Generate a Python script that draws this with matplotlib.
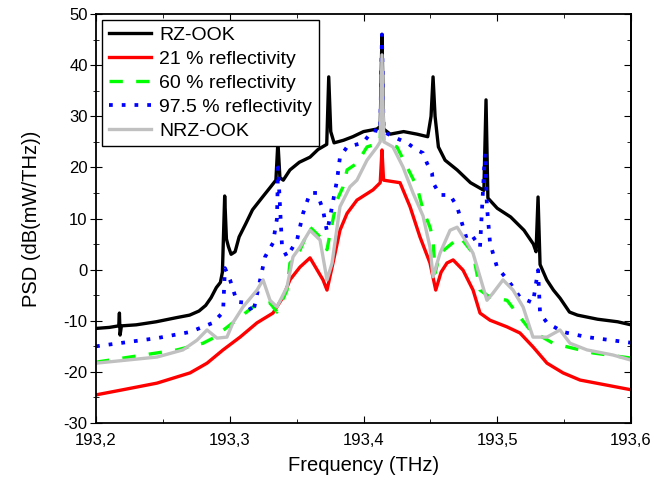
import matplotlib
matplotlib.use("Agg")
import matplotlib.pyplot as plt
from matplotlib.ticker import MultipleLocator, FuncFormatter

plt.rcParams['font.family'] = ['Liberation Sans', 'DejaVu Sans']

# values (frequency in THz, PSD in dB(mW/THz))
rz_f = [193.200, 193.210, 193.217, 193.2175, 193.218, 193.219, 193.230, 193.245, 193.260,
        193.270, 193.277, 193.282, 193.286, 193.290, 193.293, 193.2945, 193.2962, 193.2975,
        193.299, 193.301, 193.304, 193.307, 193.312, 193.317, 193.3245, 193.330, 193.3345,
        193.336, 193.3375, 193.340, 193.345, 193.352, 193.360, 193.366, 193.3725, 193.3740,
        193.3755, 193.378, 193.385, 193.392, 193.400, 193.410, 193.4125, 193.4138, 193.415,
        193.420, 193.430, 193.440, 193.448, 193.4505, 193.4520, 193.4535, 193.456, 193.461,
        193.470, 193.480, 193.490, 193.4916, 193.493, 193.500, 193.510, 193.520, 193.527,
        193.529, 193.5305, 193.532, 193.537, 193.542, 193.547, 193.554, 193.560, 193.575,
        193.590, 193.600]
rz_v = [-11.5, -11.3, -11.0, -8.5, -12.8, -11.0, -10.8, -10.2, -9.4,
        -8.9, -8.1, -7.0, -5.5, -3.5, -2.5, -0.5, 14.4, 6.0,
        4.5, 3.0, 3.5, 6.4, 9.0, 11.7, 14.2, 16.0, 17.5,
        25.0, 18.0, 17.5, 19.5, 21.0, 22.0, 23.5, 24.5, 37.7,
        27.0, 24.8, 25.3, 26.0, 27.0, 27.5, 28.0, 46.0, 27.5,
        26.5, 27.0, 26.5, 26.0, 30.0, 37.7, 30.0, 24.0, 21.4,
        19.5, 17.0, 15.5, 33.2, 14.0, 12.0, 10.3, 7.7, 5.0,
        3.5, 14.2, 1.0, -2.0, -4.0, -5.6, -8.3, -8.9, -9.7,
        -10.2, -10.8]

r21_f = [193.200, 193.220, 193.2456, 193.2703, 193.283, 193.295, 193.3077, 193.3204, 193.3323,
         193.3398, 193.345, 193.3525, 193.360, 193.3652, 193.3697, 193.3727, 193.3772, 193.3824,
         193.3877, 193.3951, 193.4071, 193.4125, 193.4138, 193.415, 193.4273, 193.4348, 193.4422,
         193.4497, 193.454, 193.4580, 193.4624, 193.467, 193.4744, 193.4819, 193.4871, 193.4946,
         193.5073, 193.517, 193.5267, 193.5372, 193.5492, 193.5619, 193.582, 193.600]
r21_v = [-24.5, -23.5, -22.2, -20.2, -18.3, -15.7, -13.2, -10.4, -8.5,
         -5.4, -2.0, 0.5, 2.3, 0.0, -2.0, -4.0, 1.3, 7.7,
         11.0, 13.6, 15.6, 17.0, 23.4, 17.5, 17.0, 12.3, 6.4,
         1.3, -4.0, -0.5, 1.3, 1.9, -0.1, -4.0, -8.5, -9.9,
         -11.2, -12.4, -15.1, -18.3, -20.2, -21.6, -22.6, -23.5]

r60_f = [193.200, 193.2606, 193.280, 193.2875, 193.3077, 193.3174, 193.3301, 193.3353, 193.3428,
         193.345, 193.3503, 193.360, 193.3675, 193.3727, 193.375, 193.3802, 193.3847, 193.3877,
         193.3951, 193.4026, 193.4123, 193.4138, 193.4153, 193.425, 193.4325, 193.440, 193.4445,
         193.4497, 193.452, 193.4535, 193.4572, 193.4721, 193.4819, 193.4871, 193.4946, 193.5073,
         193.517, 193.5245, 193.5417, 193.5522, 193.5716, 193.600]
r60_v = [-18.1, -15.7, -14.4, -13.4, -9.3, -7.3, -6.5, -8.3, -4.0,
         1.3, 2.5, 8.3, 6.4, 3.9, 7.1, 13.6, 16.2, 19.5,
         20.8, 24.0, 24.8, 32.0, 25.0, 24.0, 20.1, 16.2, 11.7,
         8.3, 5.8, -0.7, 3.2, 6.4, 3.2, -4.0, -5.4, -6.0,
         -9.3, -11.8, -14.4, -15.1, -16.3, -17.3]

r975_f = [193.200, 193.2456, 193.2703, 193.2875, 193.295, 193.2964, 193.3002, 193.3054, 193.3129,
          193.3174, 193.3264, 193.3323, 193.3353, 193.3361, 193.3391, 193.3428, 193.3503, 193.3548,
          193.360, 193.3652, 193.3697, 193.3727, 193.375, 193.3802, 193.3824, 193.3877, 193.3996,
          193.4071, 193.4125, 193.4138, 193.415, 193.422, 193.4325, 193.440, 193.4445, 193.4475,
          193.4512, 193.452, 193.4572, 193.4647, 193.470, 193.4736, 193.4774, 193.4819, 193.4871,
          193.4908, 193.4923, 193.4946, 193.4998, 193.5036, 193.5095, 193.517, 193.5222, 193.5267,
          193.5305, 193.532, 193.5372, 193.5492, 193.5671, 193.600]
r975_v = [-15.0, -13.4, -12.2, -10.4, -8.3, 0.3, -2.0, -6.3, -6.5,
          -8.5, 2.5, 5.2, 10.0, 20.0, 4.4, 2.5, 5.8, 11.0,
          15.0, 15.0, 11.7, 7.4, 10.3, 17.5, 22.0, 24.0, 24.8,
          27.3, 27.0, 46.0, 27.0, 26.0, 24.8, 23.4, 22.8, 20.8,
          18.9, 17.0, 14.6, 14.6, 12.3, 9.1, 5.8, 6.4, 4.4,
          22.8, 12.3, 5.2, 0.5, -0.7, -2.6, -5.4, -6.0, -6.5,
          -0.1, -8.5, -10.4, -12.2, -13.2, -14.3]

nrz_f = [193.200, 193.2456, 193.265, 193.2755, 193.283, 193.2905, 193.2979, 193.3024, 193.3099,
         193.3204, 193.3249, 193.3301, 193.3353, 193.3428, 193.3473, 193.3525, 193.360, 193.3675,
         193.3727, 193.3765, 193.3824, 193.3899, 193.3951, 193.4026, 193.4101, 193.4125, 193.4138,
         193.4152, 193.422, 193.4295, 193.437, 193.4445, 193.4497, 193.452, 193.4572, 193.4647,
         193.470, 193.4774, 193.4819, 193.4871, 193.4923, 193.4968, 193.5043, 193.5118, 193.5193,
         193.5267, 193.5372, 193.5469, 193.5544, 193.5671, 193.5865, 193.600]
nrz_v = [-18.3, -17.1, -15.7, -13.8, -11.8, -13.4, -13.2, -10.4, -7.3,
         -4.0, -2.0, -6.0, -7.3, -3.4, 2.5, 4.4, 7.7, 5.8,
         -2.0, 1.3, 12.3, 16.2, 17.5, 21.4, 24.0, 25.0, 42.0,
         25.0, 24.0, 20.1, 15.0, 10.5, 4.4, -1.4, 3.2, 7.7,
         8.3, 5.2, 3.2, -1.4, -6.0, -4.6, -2.0, -4.0, -7.3,
         -13.2, -13.2, -11.8, -14.4, -15.7, -16.7, -17.7]

fig = plt.figure(figsize=(6.7, 4.88), dpi=100)
ax = fig.add_axes([0.1433, 0.1332, 0.7985, 0.8381])

ax.plot(rz_f, rz_v, color='black', lw=2.4, label='RZ-OOK')
ax.plot(r21_f, r21_v, color='#ff0000', lw=2.4, label='21 % reflectivity')
ax.plot(r60_f, r60_v, color='#00ff00', lw=2.4, dashes=(4, 4), label='60 % reflectivity')
ax.plot(r975_f, r975_v, color='#0000ff', lw=2.7, dashes=(1, 2.4), label='97.5 % reflectivity')
ax.plot(nrz_f, nrz_v, color='#c0c0c0', lw=2.4, label='NRZ-OOK')

ax.set_xlim(193.2, 193.6)
ax.set_ylim(-30, 50)
ax.xaxis.set_major_locator(MultipleLocator(0.1))
ax.xaxis.set_minor_locator(MultipleLocator(0.05))
ax.yaxis.set_major_locator(MultipleLocator(10))
ax.yaxis.set_minor_locator(MultipleLocator(5))
ax.xaxis.set_major_formatter(FuncFormatter(lambda v, p: f"{v:.1f}".replace('.', ',')))
ax.yaxis.set_major_formatter(FuncFormatter(lambda v, p: f"{v:.0f}"))

ax.tick_params(axis='x', which='both', direction='in', top=True, labelsize=12, pad=7)
ax.tick_params(axis='x', which='major', length=5)
ax.tick_params(axis='x', which='minor', length=3)
ax.tick_params(axis='y', which='both', direction='inout', labelsize=12, pad=2)
ax.tick_params(axis='y', which='major', length=8)
ax.tick_params(axis='y', which='minor', length=5)
sec = ax.secondary_yaxis('right')
sec.yaxis.set_major_locator(MultipleLocator(10))
sec.yaxis.set_minor_locator(MultipleLocator(5))
sec.tick_params(which='both', direction='in', labelright=False)
sec.tick_params(which='major', length=5)
sec.tick_params(which='minor', length=3)
for s in ax.spines.values():
    s.set_linewidth(1.3)
sec.spines['right'].set_linewidth(1.3)

ax.set_xlabel('Frequency (THz)', fontsize=14.5, labelpad=6)
ax.set_ylabel('PSD (dB(mW/THz))', fontsize=14.5, labelpad=16)

leg = ax.legend(loc='upper left', fontsize=14, frameon=True, fancybox=False,
                edgecolor='black', framealpha=1, borderaxespad=0.3,
                handlelength=2.2, labelspacing=0.32, borderpad=0.35, handletextpad=0.4)
leg.get_frame().set_linewidth(1.0)

fig.savefig('out.png', dpi=100)
